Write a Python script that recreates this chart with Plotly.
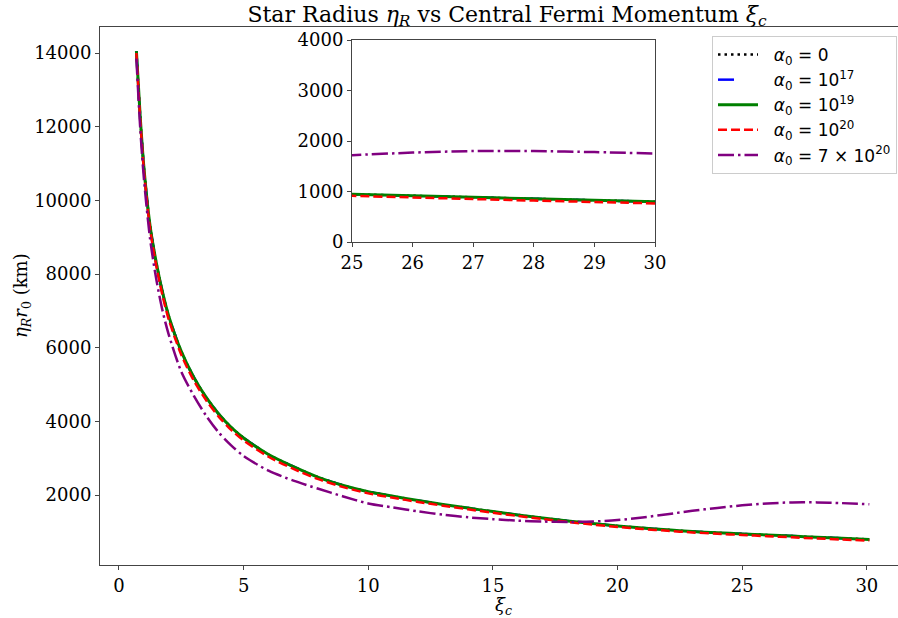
"""
Star radius vs central Fermi momentum, with a zoomed inset for xi_c in [25, 30].
"""

import plotly.graph_objects as go

# ─────────────────────────────────────────────────────────────────────────────
# Data
# ─────────────────────────────────────────────────────────────────────────────

xi_c = [0.7, 0.85, 1.0, 1.25, 1.5, 1.75, 2.0, 2.5, 3.0, 3.5, 4.0, 4.5, 5.0,
        6.0, 7.0, 8.0, 9.0, 10.0, 11.0, 12.0, 13.0, 14.0, 15.0, 16.0, 17.0,
        18.0, 19.0, 20.0, 21.0, 22.0, 23.0, 24.0, 25.0, 26.0, 27.0, 28.0,
        29.0, 30.1]

radius_a0 = [14050, 12300, 10900, 9300, 8300, 7500, 6850, 5900, 5200, 4650,
             4200, 3840, 3550, 3100, 2770, 2480, 2260, 2090, 1965, 1850, 1745,
             1645, 1550, 1460, 1375, 1295, 1225, 1160, 1105, 1055, 1010, 975,
             945, 915, 885, 855, 825, 795]

radius_a17 = [14050, 12300, 10900, 9300, 8300, 7500, 6850, 5900, 5200, 4650,
              4200, 3840, 3550, 3100, 2770, 2480, 2260, 2090, 1965, 1850, 1745,
              1645, 1550, 1460, 1375, 1295, 1225, 1160, 1105, 1055, 1010, 975,
              945, 915, 885, 855, 825, 795]

radius_a19 = [14050, 12300, 10900, 9300, 8300, 7500, 6850, 5900, 5200, 4650,
              4200, 3840, 3550, 3100, 2770, 2480, 2260, 2090, 1965, 1850, 1745,
              1645, 1550, 1460, 1375, 1295, 1225, 1160, 1105, 1055, 1010, 975,
              945, 915, 885, 855, 825, 795]

radius_a20 = [14000, 12230, 10830, 9220, 8210, 7410, 6760, 5810, 5110, 4570,
              4130, 3770, 3480, 3040, 2710, 2430, 2215, 2045, 1925, 1812, 1710,
              1612, 1518, 1430, 1347, 1268, 1198, 1133, 1078, 1028, 984, 948,
              915, 882, 851, 820, 792, 762]

radius_a7e20 = [13850, 12000, 10600, 8950, 7850, 7000, 6350, 5350, 4700, 4150,
                3700, 3350, 3060, 2660, 2390, 2170, 1960, 1770, 1660, 1555, 1465,
                1395, 1345, 1305, 1280, 1270, 1280, 1320, 1390, 1480, 1570, 1650,
                1720, 1770, 1800, 1800, 1780, 1750]

series_names = [
    "<i>α</i><sub>0</sub> = 0",
    "<i>α</i><sub>0</sub> = 10<sup>17</sup>",
    "<i>α</i><sub>0</sub> = 10<sup>19</sup>",
    "<i>α</i><sub>0</sub> = 10<sup>20</sup>",
    "<i>α</i><sub>0</sub> = 7 × 10<sup>20</sup>",
]

main_xticks = [0, 5, 10, 15, 20, 25, 30]
main_yticks = [2000, 4000, 6000, 8000, 10000, 12000, 14000]
inset_xticks = [25, 26, 27, 28, 29, 30]
inset_yticks = [0, 1000, 2000, 3000, 4000]

# ─────────────────────────────────────────────────────────────────────────────
# Styling
# ─────────────────────────────────────────────────────────────────────────────

W, H = 898, 618
L, R, T, B = 100, 0, 27, 53
SERIF = "DejaVu Serif"
SPINE = "#444444"
LEGEND_GAP = "&nbsp;&nbsp;"  # matplotlib leaves a gap between handle and label

styles = [
    dict(color="black", width=2.5, dash="2.5px,4px"),
    dict(color="blue", width=2.5, dash="16px,30px"),
    dict(color="green", width=3, dash="solid"),
    dict(color="red", width=2.5, dash="9px,4px"),
    dict(color="purple", width=2.5, dash="16px,4px,2.5px,4px"),
]
series = [radius_a0, radius_a17, radius_a19, radius_a20, radius_a7e20]

fig = go.Figure()
for name, ys, st in zip(series_names, series, styles):
    fig.add_trace(go.Scatter(
        x=xi_c, y=ys, mode="lines", name=LEGEND_GAP + name,
        line=dict(shape="spline", smoothing=0.8, **st),
        xaxis="x", yaxis="y",
    ))
for ys, st in zip(series, styles):
    fig.add_trace(go.Scatter(
        x=xi_c, y=ys, mode="lines", showlegend=False,
        line=dict(shape="spline", smoothing=0.8, **st),
        xaxis="x2", yaxis="y2",
    ))

axis_common = dict(
    showgrid=False, zeroline=False, showline=True, linecolor=SPINE,
    linewidth=1, ticks="outside", ticklen=4, tickcolor=SPINE,
    tickfont=dict(family=SERIF, size=18, color="black"),
    tickformat="d", automargin=False,
)

# pixel -> paper helpers
pw, ph = W - L - R, H - T - B


def px_x(px):
    return (px - L) / pw


def px_y(py):
    return (H - B - py) / ph


ix0, ix1, iy0, iy1 = 352, 655, 40, 242

fig.update_layout(
    width=W, height=H,
    margin=dict(l=L, r=R, t=T, b=B, autoexpand=False),
    paper_bgcolor="white", plot_bgcolor="white",
    title=dict(
        text="Star Radius <i>η</i><sub><i>R</i></sub> vs Central Fermi Momentum "
             "<i>ξ</i><sub><i>c</i></sub>",
        font=dict(family=SERIF, size=22, color="black"),
        x=507 / W, xref="container", xanchor="center",
        y=1 - 14 / H, yref="container", yanchor="middle",
    ),
    xaxis=dict(
        **axis_common, range=[-0.76, 31.25], tickvals=main_xticks,
        mirror=True, domain=[0, 1],
    ),
    yaxis=dict(
        **axis_common, range=[100, 14707], tickvals=main_yticks,
        domain=[0, 1],
    ),
    xaxis2=dict(
        **axis_common, range=[25, 30], tickvals=inset_xticks, mirror=True,
        anchor="y2", domain=[px_x(ix0), px_x(ix1)],
    ),
    yaxis2=dict(
        **axis_common, range=[0, 4000], tickvals=inset_yticks, mirror=True,
        anchor="x2", domain=[px_y(iy1), px_y(iy0)],
    ),
    legend=dict(
        x=px_x(897), y=px_y(36), xanchor="right", yanchor="top",
        bgcolor="white", bordercolor="#cccccc", borderwidth=1,
        font=dict(family="DejaVu Sans", size=17, color="black"),
        tracegroupgap=0, itemwidth=40,
    ),
    showlegend=True,
)

# axis labels placed like the matplotlib original
fig.add_annotation(
    text="<i>ξ</i><sub><i>c</i></sub>", x=px_x(503), y=px_y(606),
    xref="paper", yref="paper", showarrow=False,
    xanchor="center", yanchor="middle",
    font=dict(family=SERIF, size=18, color="black"),
)
fig.add_annotation(
    text="<i>η</i><sub><i>R</i></sub><i>r</i><sub>0</sub> (km)",
    x=px_x(22), y=px_y(296), xref="paper", yref="paper", showarrow=False,
    xanchor="center", yanchor="middle", textangle=-90,
    font=dict(family=SERIF, size=18, color="black"),
)

fig.write_html(
    "out.html",
    config={"displayModeBar": False},
    post_script="document.body.style.margin='0';",
)
